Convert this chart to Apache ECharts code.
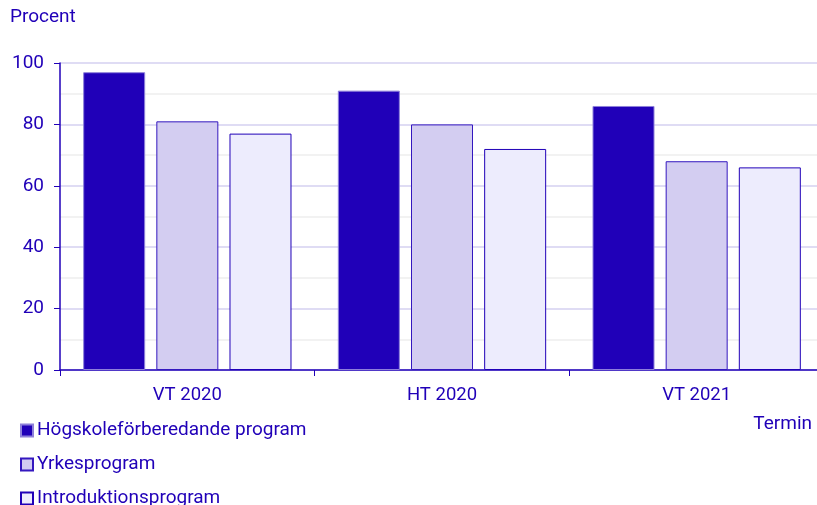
<!DOCTYPE html>
<html>
<head>
<meta charset="utf-8">
<script src="https://cdn.jsdelivr.net/npm/echarts@6/dist/echarts.min.js"></script>
<style>
  html, body { margin: 0; padding: 0; background: #fff; overflow: hidden; }
  #chart { width: 830px; height: 505px; }
</style>
</head>
<body>
<div id="chart"></div>
<script>
// terminer
const terminer = ["VT 2020", "HT 2020", "VT 2021"];
// andel per program (procent)
const hogskoleforberedande = [97, 91, 86];
const yrkesprogram = [81, 80, 68];
const introduktionsprogram = [77, 72, 66];
const seriesNames = ["Högskoleförberedande program", "Yrkesprogram", "Introduktionsprogram"];

const blue = "#2000b8";
const font = "Roboto";

// the plot runs a little past the right edge of the picture, so the canvas is wider than the window
const chart = echarts.init(document.getElementById("chart"));
chart.setOption({
  animation: false,
  textStyle: { fontFamily: font },
  grid: { left: 60, top: 63, right: 6, bottom: 135 },
  graphic: [
    { type: "text", left: 10, top: 8, style: { text: "Procent", fill: blue, font: "19px " + font } },
    { type: "text", right: 18, top: 415, style: { text: "Termin", fill: blue, font: "19px " + font } }
  ],
  legend: {
    orient: "vertical",
    left: 20,
    top: 421,
    height: 100,
    padding: 0,
    itemWidth: 12,
    itemHeight: 12,
    itemGap: 15,
    icon: "rect",
    textStyle: { color: blue, fontSize: 19, lineHeight: 18, fontFamily: font, padding: [0, 0, 0, -1] },
    data: seriesNames
  },
  xAxis: {
    type: "category",
    data: terminer,
    axisLine: { lineStyle: { color: blue, width: 1.5 } },
    axisTick: { show: true, length: 6, lineStyle: { color: blue } },
    axisLabel: { color: blue, fontSize: 18.5, margin: 16 }
  },
  yAxis: {
    type: "value",
    min: 0,
    max: 100,
    interval: 20,
    axisLine: { show: true, lineStyle: { color: blue, width: 1.5 } },
    axisTick: { show: true, length: 6, lineStyle: { color: blue } },
    axisLabel: { color: blue, fontSize: 19, margin: 16 },
    splitLine: { lineStyle: { color: "#d4d1f0", width: 1.5 } },
    minorTick: { show: false, splitNumber: 2 },
    minorSplitLine: { show: true, lineStyle: { color: "#eeeeee", width: 1.5 } }
  },
  series: [
    {
      name: seriesNames[0], type: "bar", data: hogskoleforberedande,
      barWidth: 62, barGap: "18%",
      itemStyle: { color: "#2000b8", borderColor: "#8e80da", borderWidth: 1 }
    },
    {
      name: seriesNames[1], type: "bar", data: yrkesprogram,
      barWidth: 62, barGap: "18%",
      itemStyle: { color: "#d3cdf1", borderColor: "#3418bf", borderWidth: 1 }
    },
    {
      name: seriesNames[2], type: "bar", data: introduktionsprogram,
      barWidth: 62, barGap: "18%",
      itemStyle: { color: "#edecfd", borderColor: "#2000b8", borderWidth: 1 }
    }
  ]
});
</script>
</body>
</html>
